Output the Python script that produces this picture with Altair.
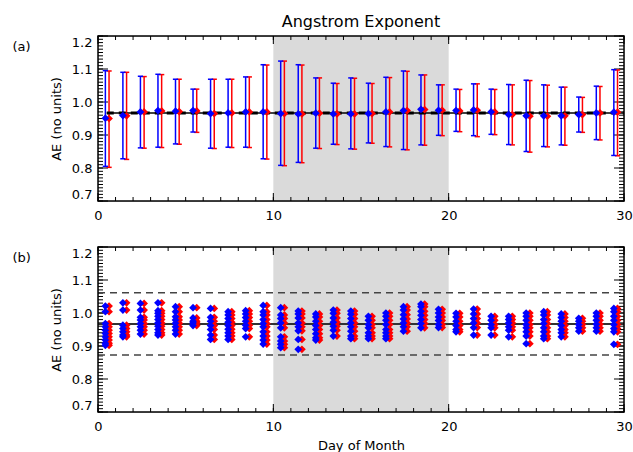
import altair as alt
import pandas as pd

FONT = "DejaVu Sans"
W, H = 526, 165

# ---------------- data ----------------
day_index = list(range(30))

# panel (a): daily mean AE with error bars (blue = series 1, red = series 2)
blue_mean = [0.951, 0.959, 0.970, 0.974, 0.972, 0.974, 0.965, 0.967, 0.970, 0.970,
             0.965, 0.964, 0.966, 0.964, 0.964, 0.965, 0.970, 0.974, 0.978, 0.975,
             0.974, 0.976, 0.970, 0.962, 0.958, 0.958, 0.958, 0.962, 0.967, 0.969]
blue_hi = [1.095, 1.090, 1.078, 1.084, 1.069, 1.039, 1.069, 1.069, 1.076, 1.113,
           1.124, 1.113, 1.073, 1.057, 1.073, 1.057, 1.075, 1.094, 1.082, 1.052,
           1.039, 1.055, 1.039, 1.053, 1.066, 1.052, 1.045, 1.015, 1.048, 1.098]
blue_lo = [0.805, 0.828, 0.861, 0.863, 0.873, 0.909, 0.860, 0.863, 0.863, 0.828,
           0.808, 0.817, 0.860, 0.872, 0.858, 0.876, 0.865, 0.856, 0.870, 0.899,
           0.911, 0.898, 0.902, 0.871, 0.850, 0.865, 0.870, 0.909, 0.886, 0.838]

red_mean = [0.950, 0.958, 0.970, 0.973, 0.971, 0.973, 0.965, 0.967, 0.970, 0.970,
            0.965, 0.964, 0.966, 0.964, 0.964, 0.965, 0.970, 0.974, 0.977, 0.975,
            0.973, 0.975, 0.970, 0.962, 0.957, 0.957, 0.958, 0.962, 0.967, 0.969]
red_hi = [1.094, 1.090, 1.077, 1.083, 1.069, 1.039, 1.069, 1.069, 1.076, 1.112,
          1.124, 1.112, 1.073, 1.056, 1.072, 1.056, 1.074, 1.093, 1.082, 1.052,
          1.038, 1.055, 1.038, 1.052, 1.065, 1.051, 1.045, 1.014, 1.047, 1.097]
red_lo = [0.802, 0.826, 0.860, 0.862, 0.872, 0.908, 0.859, 0.862, 0.862, 0.827,
          0.807, 0.816, 0.859, 0.871, 0.857, 0.875, 0.864, 0.855, 0.869, 0.898,
          0.910, 0.895, 0.901, 0.870, 0.848, 0.864, 0.869, 0.908, 0.885, 0.837]

mean_a = 0.967

# panel (b): individual AE values per day
values_b = [
    [1.021, 1.004, 0.968, 0.958, 0.948, 0.938, 0.928, 0.918, 0.908, 0.902],
    [1.031, 1.009, 0.963, 0.953, 0.943, 0.933, 0.928],
    [1.029, 1.009, 0.987, 0.979, 0.968, 0.958, 0.948, 0.936],
    [1.031, 1.007, 0.999, 0.990, 0.980, 0.970, 0.960, 0.950, 0.940, 0.933],
    [1.019, 1.004, 0.989, 0.979, 0.969, 0.958, 0.948, 0.936],
    [1.016, 0.985, 0.975, 0.970, 0.962],
    [1.014, 0.987, 0.975, 0.962, 0.950, 0.933, 0.920],
    [1.004, 0.994, 0.983, 0.972, 0.962, 0.951, 0.940, 0.930, 0.920],
    [1.007, 0.997, 0.986, 0.975, 0.963, 0.953, 0.928],
    [1.023, 1.004, 0.994, 0.980, 0.968, 0.958, 0.943, 0.930, 0.918, 0.906],
    [1.016, 0.994, 0.983, 0.970, 0.955, 0.928, 0.915, 0.905, 0.895],
    [1.006, 0.997, 0.985, 0.970, 0.958, 0.946, 0.920, 0.890],
    [0.997, 0.988, 0.975, 0.962, 0.950, 0.937, 0.925, 0.918],
    [1.009, 0.999, 0.985, 0.972, 0.960, 0.948, 0.930],
    [1.006, 0.996, 0.983, 0.970, 0.958, 0.945, 0.930, 0.922],
    [0.990, 0.978, 0.965, 0.955, 0.940, 0.930, 0.922],
    [1.000, 0.990, 0.978, 0.965, 0.950, 0.940, 0.930, 0.922],
    [1.019, 1.009, 0.995, 0.982, 0.970, 0.958, 0.945],
    [1.027, 1.019, 1.005, 0.993, 0.980, 0.968, 0.955],
    [1.011, 1.000, 0.988, 0.977, 0.965, 0.956],
    [0.999, 0.988, 0.975, 0.962, 0.950, 0.943],
    [1.012, 0.997, 0.983, 0.970, 0.956, 0.933],
    [0.990, 0.978, 0.965, 0.955, 0.933],
    [0.990, 0.980, 0.970, 0.958, 0.948, 0.928],
    [1.000, 0.990, 0.978, 0.965, 0.955, 0.943, 0.930, 0.907],
    [1.004, 0.994, 0.980, 0.968, 0.955, 0.943, 0.930, 0.922],
    [0.997, 0.986, 0.975, 0.962, 0.950, 0.940, 0.928],
    [0.984, 0.975, 0.965, 0.955, 0.945],
    [1.000, 0.990, 0.978, 0.966, 0.955, 0.945],
    [1.014, 1.004, 0.990, 0.978, 0.965, 0.953, 0.943, 0.905],
]
mean_b = 0.967
band_hi_b = 1.061
band_lo_b = 0.873

shade_start, shade_end = [10], [20]
x_tick_labels = [0, 10, 20, 30]
y_tick_labels = [0.7, 0.8, 0.9, 1.0, 1.1, 1.2]

BLUE_OFF, RED_OFF = 0.42, 0.63
BLUE, RED = "#0000ff", "#ff0000"

# ---------------- tables ----------------
def series_a(mean, hi, lo, off):
    return pd.DataFrame({
        "x": [d + off for d in day_index],
        "xl": [d + off - 0.15 for d in day_index],
        "xr": [d + off + 0.15 for d in day_index],
        "y": mean, "hi": hi, "lo": lo,
    })

blue_a = series_a(blue_mean, blue_hi, blue_lo, BLUE_OFF)
red_a = series_a(red_mean, red_hi, red_lo, RED_OFF)

def series_b(off):
    rows = []
    for d, vals in zip(day_index, values_b):
        for v in vals:
            rows.append({"x": d + off, "y": v})
    return pd.DataFrame(rows)

blue_b = series_b(BLUE_OFF)
red_b = series_b(RED_OFF)

XS = alt.Scale(domain=[0, 30], nice=False, zero=False)
YS = alt.Scale(domain=[0.7, 1.2], nice=False, zero=False)

y_minor = pd.DataFrame({"y": [round(0.70 + 0.01 * k, 2) for k in range(51)]})
y_major = pd.DataFrame({"y": y_tick_labels})
x_minor = pd.DataFrame({"x": list(range(31))})
x_major = pd.DataFrame({"x": x_tick_labels})


def make_axis_x(title):
    kw = dict(values=x_tick_labels, format="d", ticks=False, domain=False, grid=False,
              labelFont=FONT, labelFontSize=13, labelColor="#000", labelPadding=8,
              labelFlush=False)
    if title:
        kw.update(title=title, titleFont=FONT, titleFontSize=13, titleFontWeight="normal",
                  titleColor="#000", titlePadding=6)
    else:
        kw.update(title=None)
    return alt.Axis(**kw)


AY = alt.Axis(values=y_tick_labels, format=".1f", ticks=False, domain=False, grid=False,
              labelFont=FONT, labelFontSize=13, labelColor="#000", labelPadding=6,
              labelFlush=True, title="AE (no units)", titleFont=FONT, titleFontSize=13,
              titleFontWeight="normal", titleColor="#000", titlePadding=8)


def build_panel(label, AX, content_fn):
    X = lambda f: alt.X(f, scale=XS, axis=AX)
    Y = lambda f: alt.Y(f, scale=YS, axis=AY)

    shade = alt.Chart(pd.DataFrame({"x": shade_start, "x2": shade_end})).mark_rect(
        color="#dadada").encode(x=X("x:Q"), x2="x2:Q", y=alt.value(0), y2=alt.value(H))
    ticks = []
    for df, field, size, horiz in [(y_minor, "y", 5, True), (y_major, "y", 10, True),
                                   (x_minor, "x", 4, False), (x_major, "x", 8, False)]:
        base = alt.Chart(df).mark_rule(color="#000", strokeWidth=1)
        if horiz:
            ticks.append(base.encode(x=alt.value(0), x2=alt.value(size), y=Y(f"{field}:Q")))
            ticks.append(base.encode(x=alt.value(W - size), x2=alt.value(W), y=Y(f"{field}:Q")))
        else:
            ticks.append(base.encode(y=alt.value(0), y2=alt.value(size), x=X(f"{field}:Q")))
            ticks.append(base.encode(y=alt.value(H - size), y2=alt.value(H), x=X(f"{field}:Q")))
    frame = alt.Chart(pd.DataFrame({"t": [0]})).mark_rect(
        fill=None, stroke="#000", strokeWidth=1.5).encode(
        x=alt.value(0), x2=alt.value(W), y=alt.value(0), y2=alt.value(H))
    tag = alt.Chart(pd.DataFrame({"t": [label]})).mark_text(
        font=FONT, fontSize=13, align="left", baseline="middle", color="#000").encode(
        text="t:N", x=alt.value(-85.5), y=alt.value(11))
    return alt.layer(shade, *ticks, *content_fn(X, Y), frame, tag).properties(width=W, height=H)


def points(df, color, X, Y):
    return alt.Chart(df).mark_point(shape="diamond", filled=True, size=60, opacity=1,
                                    color=color).encode(x=X("x:Q"), y=Y("y:Q"))


# ---------------- panel (a) ----------------
def content_a(X, Y):
    def bars(df, color):
        base = alt.Chart(df).mark_rule(color=color, strokeWidth=1.5)
        return [base.encode(x=X("x:Q"), y=Y("lo:Q"), y2="hi:Q"),
                base.encode(x=X("xl:Q"), x2="xr:Q", y=Y("hi:Q")),
                base.encode(x=X("xl:Q"), x2="xr:Q", y=Y("lo:Q"))]
    mdf = pd.DataFrame({"x": [0.5], "x2": [30], "y": [mean_a]})
    m_solid = alt.Chart(mdf).mark_rule(color="#000", strokeWidth=1.5).encode(
        x=X("x:Q"), x2="x2:Q", y=Y("y:Q"))
    m_dash = alt.Chart(mdf).mark_rule(color="#000", strokeWidth=3, strokeDash=[7, 5]).encode(
        x=X("x:Q"), x2="x2:Q", y=Y("y:Q"))
    title = alt.Chart(pd.DataFrame({"t": ["Angstrom Exponent"]})).mark_text(
        font=FONT, fontSize=16, align="center", baseline="middle", color="#000").encode(
        text="t:N", x=alt.value(W / 2), y=alt.value(-14))
    return [*bars(red_a, RED), *bars(blue_a, BLUE), m_solid, m_dash,
            points(red_a, RED, X, Y), points(blue_a, BLUE, X, Y), title]


# ---------------- panel (b) ----------------
def content_b(X, Y):
    ldf = pd.DataFrame({"x": [0], "x2": [30], "m": [mean_b], "hi": [band_hi_b], "lo": [band_lo_b]})
    m = alt.Chart(ldf).mark_rule(color="#333", strokeWidth=2).encode(
        x=X("x:Q"), x2="x2:Q", y=Y("m:Q"))
    hi = alt.Chart(ldf).mark_rule(color="#444", strokeWidth=1.5, strokeDash=[7, 5]).encode(
        x=X("x:Q"), x2="x2:Q", y=Y("hi:Q"))
    lo = alt.Chart(ldf).mark_rule(color="#444", strokeWidth=1.5, strokeDash=[7, 5]).encode(
        x=X("x:Q"), x2="x2:Q", y=Y("lo:Q"))
    return [m, hi, lo, points(red_b, RED, X, Y), points(blue_b, BLUE, X, Y)]


panel_a = build_panel("(a)", make_axis_x(None), content_a)
panel_b = build_panel("(b)", make_axis_x("Day of Month"), content_b)

chart = alt.vconcat(panel_a, panel_b, spacing=22).properties(
    padding={"left": 12, "top": 13, "right": 0, "bottom": 0}
).configure_view(stroke=None).configure(background="white")

chart.save("out.html", embed_options={"renderer": "svg", "actions": False})
